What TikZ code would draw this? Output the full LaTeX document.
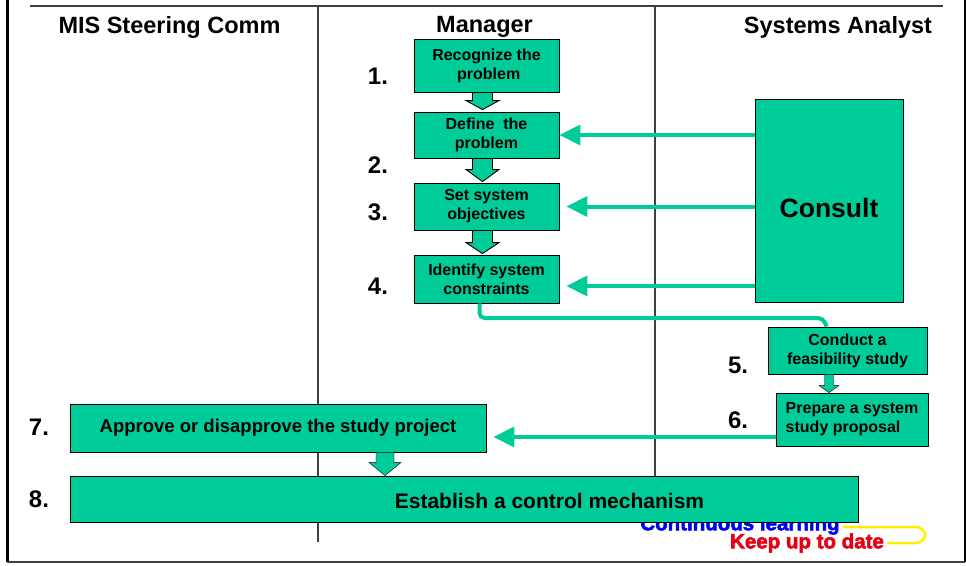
\documentclass[tikz,border=0pt]{standalone}
\usepackage{fontspec}
\setmainfont{Liberation Sans}
\newfontfamily\glowfont{Liberation Sans}[BoldFeatures={FakeBold=2.5}]
\usepackage{xcolor}
\usepackage{tikz}
\usetikzlibrary{positioning,calc,arrows.meta}

\definecolor{stepgreen}{RGB}{0,204,153}
\definecolor{laneline}{RGB}{64,64,64}
\definecolor{learnblue}{RGB}{0,0,240}
\definecolor{updatered}{RGB}{230,0,20}
\definecolor{bracketyellow}{RGB}{255,240,0}

% block arrow pointing down: style, start, tip, half shaft, half head, head length
\newcommand{\blockdown}[6]{%
  \draw[#1] let \p1=(#2), \p2=(#3) in
    (\x2-#4,\y1) -- (\x2-#4,\y2+#6) -- (\x2-#5,\y2+#6) -- (\x2,\y2)
    -- (\x2+#5,\y2+#6) -- (\x2+#4,\y2+#6) -- (\x2+#4,\y1) -- cycle;}

\tikzset{
  stepbox/.style={draw=black, fill=stepgreen, line width=0.9pt, align=center,
    inner sep=2pt, font=\fontsize{16}{19}\selectfont\bfseries},
  feed/.style={draw=stepgreen, line width=4pt, -{Triangle[length=21pt,width=20pt]}},
  blk/.style={fill=stepgreen, draw=black, line width=0.9pt},
  blkplain/.style={fill=stepgreen},
  lane/.style={draw=laneline, line width=1.4pt},
  hdr/.style={font=\fontsize{23.5}{27}\selectfont\bfseries},
  num/.style={font=\fontsize{24}{28}\selectfont\bfseries},
  glow/.style={font=\glowfont\fontsize{20.5}{24}\selectfont\bfseries}
}

\begin{document}
\begin{tikzpicture}[x=1pt,y=-1pt]
	\useasboundingbox (0,0) rectangle (966,565);

	% frame and lanes
	\draw[line width=3pt] (7,0) -- (7,562);
	\draw[line width=2.5pt] (965,0) -- (965,562);
	\draw[laneline, line width=2pt] (7,562) -- (965,562);
	\draw[lane] (30,6) -- (943,6);
	\draw[lane] (318,6) -- (318,542);
	\draw[lane] (655,6) -- (655,476);

	\node[hdr] (hsteer) at (169.5,27) {MIS Steering Comm};
	\node[hdr] (hmanager) at (484.5,27) {Manager};
	\node[hdr] (hanalyst) at (838,27) {Systems Analyst};

	% manager steps
	\node[stepbox, minimum width=145, minimum height=53] (recog) at (486.5,65.5) {Recognize the\\ \ problem};
	\node[stepbox, minimum width=145, minimum height=46] (define) at (486.5,135) {Define \ the\\problem};
	\node[stepbox, minimum width=145, minimum height=47] (setobj) at (486.5,206.5) {Set system\\objectives};
	\node[stepbox, minimum width=145, minimum height=48] (ident) at (486.5,279) {Identify system\\constraints};

	\node[num] (n1) at (378,76) {1.};
	\node[num] (n2) at (378,165) {2.};
	\node[num] (n3) at (378,212) {3.};
	\node[num] (n4) at (378,286) {4.};

	\blockdown{blk}{recog.south}{$(define.north)+(-4,-2)$}{10pt}{16.5pt}{9pt}
	\blockdown{blk}{define.south}{$(setobj.north)+(-4,-1)$}{10pt}{16.5pt}{12pt}
	\blockdown{blk}{setobj.south}{$(ident.north)+(-4,-1)$}{10pt}{16.5pt}{11pt}

	% analyst
	\node[stepbox, minimum width=148, minimum height=203,
		font=\fontsize{26.5}{30}\selectfont\bfseries] (consult) at (829,200.5) {\raisebox{-8pt}[\height][\depth]{Consult}};
	\node[stepbox, minimum width=159, minimum height=47] (conduct) at (847.5,350.5) {Conduct a\\feasibility study};
	\node[stepbox, minimum width=152, minimum height=53, align=left] (prepare) at (852,419.5) {Prepare a system\\study proposal};

	\node[num] (n5) at (738,365) {5.};
	\node[num] (n6) at (738,420) {6.};

	\coordinate (setin) at ($(setobj.east)+(7,0)$);
	\coordinate (identin) at ($(ident.east)+(7,7)$);
	\draw[feed] (consult.west |- define.east) -- (define.east);
	\draw[feed] (consult.west |- setin) -- (setin);
	\draw[feed] (consult.west |- identin) -- (identin);

	\coordinate (turn) at (823,318);
	\draw[stepgreen, line width=4pt, rounded corners=5pt]
		($(ident.south)+(-7,0)$) |- (turn) -- ($(conduct.north west)+(59,0)$);

	\blockdown{blkplain}{conduct.south}{$(prepare.north)+(-23,0)$}{4.5pt}{10pt}{7pt}

	% steering committee
	\node[stepbox, minimum width=416, minimum height=48,
		font=\fontsize{18.5}{22}\selectfont\bfseries] (approve) at (278,428) {Approve or disapprove the study project};
	\node[num] (n7) at (39,427) {7.};

	\coordinate (apprin) at ($(approve.east)+(7,9)$);
	\draw[feed] (prepare.west |- apprin) -- (apprin);

	\node[glow, text=learnblue] (contlearn) at (740,525) {Continuous learning};
	\node[glow, text=updatered] (keepup) at (807,543) {Keep up to date};
	\draw[bracketyellow, line width=2.5pt, rounded corners=9pt]
		([yshift=-2pt]contlearn.east) -- ++(82,0) |- (keepup.east);

	\node[stepbox, minimum width=788, minimum height=46] (establish) at (464,499) {};
	\node[font=\fontsize{21}{25}\selectfont\bfseries] (establishtxt) at (549.5,501) {Establish a control mechanism};
	\node[num] (n8) at (39,499) {8.};

	\blockdown{blkplain}{approve.south}{$(establish.north)+(-79,0)$}{9pt}{16pt}{13pt}
\end{tikzpicture}
\end{document}
